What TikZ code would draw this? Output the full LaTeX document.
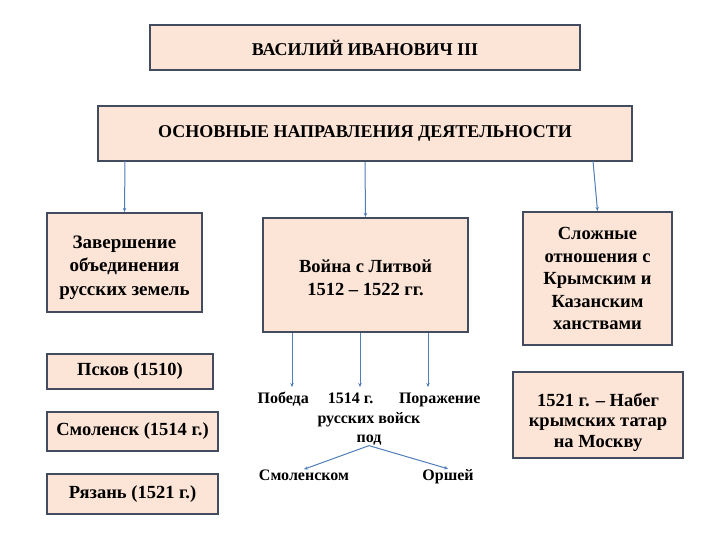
\documentclass[tikz,border=0pt]{standalone}
\usepackage{fontspec}
\setmainfont{Liberation Serif}
\usetikzlibrary{arrows.meta,positioning}
\definecolor{boxfill}{HTML}{FCE4D6}
\definecolor{boxline}{HTML}{434C5E}
\definecolor{linkcol}{HTML}{4F7DB8}
\tikzset{
  box/.style={draw=boxline, fill=boxfill, line width=2.2pt, align=center,
    inner sep=0pt, font=\bfseries\fontsize{18.5}{22.5}\selectfont},
  boxtext/.style={align=center, inner sep=0pt, font=\bfseries\fontsize{18.5}{22.5}\selectfont},
  head/.style={box, font=\bfseries\fontsize{18}{20}\selectfont},
  link/.style={draw=linkcol, line width=1pt, -{Stealth[length=4pt,width=3.5pt]}},
  note/.style={align=center, inner sep=0pt, font=\bfseries\fontsize{16}{19.5}\selectfont}
}

\begin{document}
\begin{tikzpicture}[x=1pt,y=-1pt]
    \useasboundingbox (0,0) rectangle (720,540);

    % Top of the scheme
    \node[head, minimum width=430, minimum height=45] (tsar) at (365,47.5) {ВАСИЛИЙ ИВАНОВИЧ III};
    \node[head, minimum width=534, minimum height=55] (dir) at (365,133.5) {ОСНОВНЫЕ НАПРАВЛЕНИЯ ДЕЯТЕЛЬНОСТИ};

    % Three directions
    \node[box, minimum width=155, minimum height=99] (unite) at (124.5,262.5) {};
    \node[boxtext, font=\bfseries\fontsize{19}{23.5}\selectfont] at ([yshift=-5pt]unite.center)
        {Завершение\\объединения\\русских земель};
    \node[box, minimum width=205, minimum height=114] (war) at (365.5,275) {};
    \node[boxtext] at ([yshift=-3pt]war.center) {Война с Литвой\\1512 -- 1522 гг.};
    \node[box, minimum width=149, minimum height=133] (khan) at (597.5,278.5)
        {Сложные\\отношения с\\Крымским и\\Казанским\\ханствами};

    % Lands joined
    \node[box, minimum width=166, minimum height=35] (pskov) at (130,371.5) {Псков (1510)};
    \node[box, minimum width=171, minimum height=39] (smol) at (132.5,431.5) {Смоленск (1514 г.)};
    \node[box, minimum width=171, minimum height=40] (ryaz) at (132.5,494) {Рязань (1521 г.)};

    % Raid
    \node[box, minimum width=170, minimum height=86] (raid) at (598,415) {};
    \node[boxtext, font=\bfseries\fontsize{18.5}{20.5}\selectfont] at ([yshift=-7pt]raid.center)
        {1521 г. -- Набег\\крымских татар\\на Москву};

    % War outcomes
    \node[note, anchor=north] (battle) at (369,392)
        {Победа\hspace{1.2em}1514 г.\hspace{1.6em}Поражение\\русских войск\\под};
    \node[note, anchor=base] (smk) at (304,480) {Смоленском};
    \node[note, anchor=base] (orsha) at (448,480) {Оршей};

    % Connectors
    \coordinate (d1) at (125,161);
    \coordinate (d3) at (593,161);
    \draw[link] (d1) -- (unite.north);
    \draw[link] (dir.south) -- (war.north);
    \draw[link] (d3) -- (khan.north);

    \coordinate (w1) at (292,387);
    \coordinate (w2) at (360,387);
    \coordinate (w3) at (428,387);
    \draw[link] (war.south -| w1) -- (w1);
    \draw[link] (war.south -| w2) -- (w2);
    \draw[link] (war.south -| w3) -- (w3);

    \draw[link] (battle.south) -- (smk.north);
    \draw[link] (battle.south) -- (orsha.north);
\end{tikzpicture}
\end{document}
